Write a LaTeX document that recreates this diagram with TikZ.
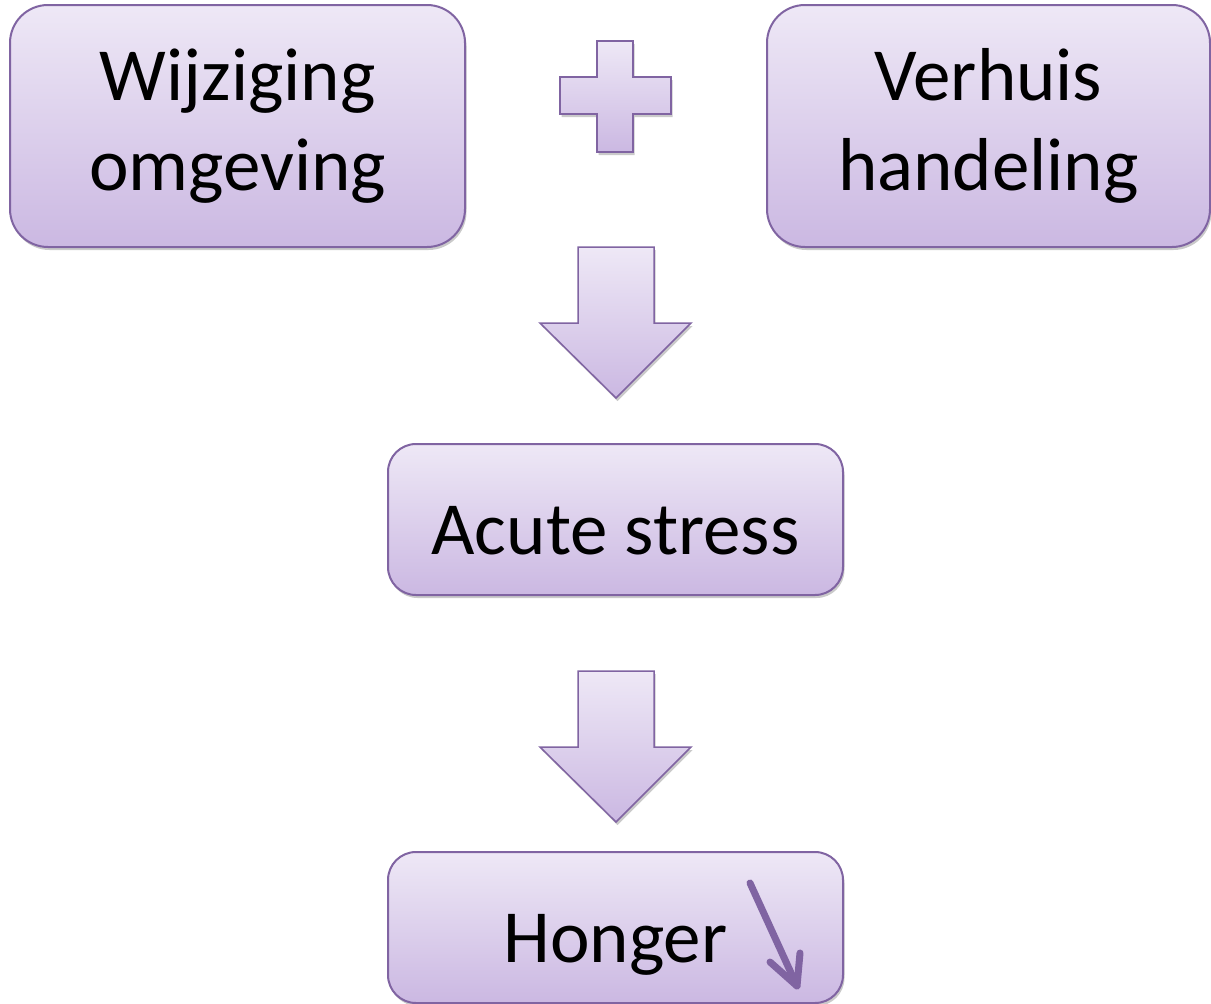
\documentclass[tikz,border=0pt]{standalone}
\usepackage{fontspec}
\setmainfont{Carlito}
\usetikzlibrary{shadows}
\definecolor{pline}{HTML}{8064A2}
\definecolor{ptop}{HTML}{EEE8F6}
\definecolor{pbot}{HTML}{CBB8E2}
\tikzset{
  pshade/.style={top color=ptop, bottom color=pbot, draw=pline, line width=2pt,
    drop shadow={shadow xshift=1.5pt, shadow yshift=-3pt, opacity=0.35, fill=black!60}},
  box/.style={pshade, rounded corners=#1, inner sep=0pt},
  box/.default=38pt,
  lbl/.style={inner sep=0pt, align=center, font=\fontsize{75}{90}\selectfont},
}
\begin{document}
\begin{tikzpicture}[x=1pt,y=-1pt]
\useasboundingbox (0,0) rectangle (1211,1004);
% boxes
\node[box, minimum width=455pt, minimum height=242pt] (b1) at (237.5,126) {};
\node[box, minimum width=443pt, minimum height=242pt] (b2) at (988.5,126) {};
\node[box=28pt, minimum width=455pt, minimum height=151pt] (b3) at (615.5,519.5) {};
\node[box=28pt, minimum width=455pt, minimum height=151pt] (b4) at (615.5,927.5) {};
\node[lbl] (t1) at (b1.center) {Wijziging\\omgeving};
\node[lbl] (t2) at (b2.center) {Verhuis\\handeling};
\node[lbl, yshift=-11pt] (t3) at (b3.center) {Acute stress};
\node[lbl, yshift=-17pt] (t4) at (b4.center) {Honger};
% plus sign
\path[pshade, line join=miter]
  (597,41) -- (633,41) -- (633,77) -- (671,77) -- (671,114) -- (633,114) -- (633,152)
  -- (597,152) -- (597,114) -- (560,114) -- (560,77) -- (597,77) -- cycle;
% block arrows
\path[pshade, line width=1.5pt]
  (578,247) -- (654,247) -- (654,323) -- (691,323) -- (616,398) -- (540,323) -- (578,323) -- cycle;
\path[pshade, line width=1.5pt]
  (578,671) -- (654,671) -- (654,747) -- (691,747) -- (616,822) -- (540,747) -- (578,747) -- cycle;
% small arrow in Honger box
\coordinate (hs) at (750,883);
\coordinate (he) at (797,986);
\coordinate (ha) at (770,962);
\coordinate (hb) at (800,953);
\draw[pline, line width=7pt, line cap=round, line join=round] (hs) -- (he);
\draw[pline, line width=7pt, line cap=round, line join=round] (ha) -- (he) -- (hb);
\end{tikzpicture}
\end{document}
